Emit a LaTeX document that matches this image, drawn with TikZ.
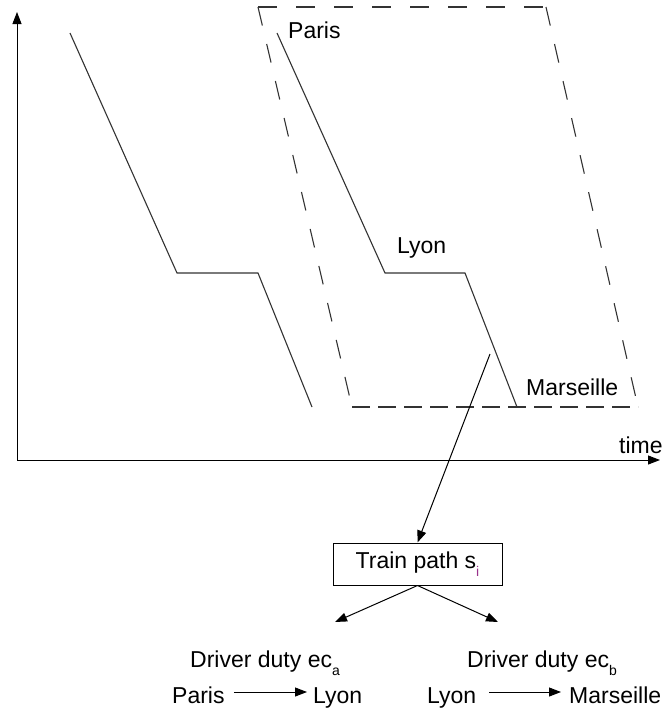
\documentclass[tikz,border=0pt]{standalone}
\usepackage{fontspec}
\setmainfont{Liberation Sans}
\usetikzlibrary{arrows.meta}
\definecolor{linec}{HTML}{333333}
\definecolor{subc}{rgb}{0.6,0.2,0.55}
\newcommand{\subtxt}[2][black]{\raisebox{-8pt}{\fontsize{14}{14}\selectfont\color{#1}#2}}
\begin{document}
\begin{tikzpicture}[x=1pt,y=-1pt,
  lbl/.style={inner sep=0pt,anchor=base west,font=\fontsize{23}{23}\selectfont},
  track/.style={draw=linec,line width=1.1pt},
  dashtop/.style={draw=linec,line width=1.1pt,dash pattern=on 19pt off 19pt},
  dashbot/.style={draw=linec,line width=1.1pt,dash pattern=on 18pt off 8pt},
  arr/.style={draw=black,line width=1pt,-{Triangle[length=12pt,width=9pt]}},
  boxst/.style={draw=black,line width=1pt,minimum width=169pt,minimum height=42pt,inner sep=0pt,font=\fontsize{23}{23}\selectfont}]
\useasboundingbox (0,0) rectangle (667,713);
% axes
\coordinate (o) at (17,460);
\coordinate (ytop) at (17,12);
\coordinate (xend) at (660,460);
\draw[arr] (o) -- (ytop);
\draw[arr] (o) -- (xend);
\node[lbl] (time) at (619,453) {time};
% left train path
\draw[track] (70,33) -- (177,273) -- (258,273) -- (312,407);
% right train path
\draw[track] (277,33) -- (385,273) -- (465,273) -- (517,407);
% dashed window
\coordinate (w1) at (258,7);
\coordinate (w2) at (546,7);
\coordinate (w3) at (638,407);
\coordinate (w4) at (352,407);
\draw[dashtop] (w1) -- (w2);
\draw[dashtop] (w2) -- (w3);
\draw[dashbot] (w4) -- (w3);
\draw[dashtop] (w1) -- (w4);
% labels
\node[lbl] (paris) at (288,38) {Paris};
\node[lbl] (lyon) at (397,253) {Lyon};
\node[lbl] (mars) at (526,395) {Marseille};
% box
\node[boxst] (box) at (417.5,564) {Train path s\subtxt[subc]{i}};
\coordinate (tp) at (490,354);
\draw[arr] (tp) -- (box.north);
\coordinate (da) at (335,622);
\coordinate (db) at (498,622);
\draw[arr] (box.south) -- (da);
\draw[arr] (box.south) -- (db);
% driver duties
\node[lbl] (dutya) at (190,667) {Driver duty ec\subtxt{a}};
\node[lbl] (dutyb) at (467,667) {Driver duty ec\subtxt{b}};
\node[lbl] (p2) at (172,703) {Paris};
\node[lbl] (l2) at (313,703) {Lyon};
\node[lbl] (l3) at (427,703) {Lyon};
\node[lbl] (m3) at (569,703) {Marseille};
\draw[arr] ([shift={(9,-11)}]p2.base east) -- ([shift={(-6,-11)}]l2.base west);
\draw[arr] ([shift={(13,-11)}]l3.base east) -- ([shift={(-8,-11)}]m3.base west);
\end{tikzpicture}
\end{document}
